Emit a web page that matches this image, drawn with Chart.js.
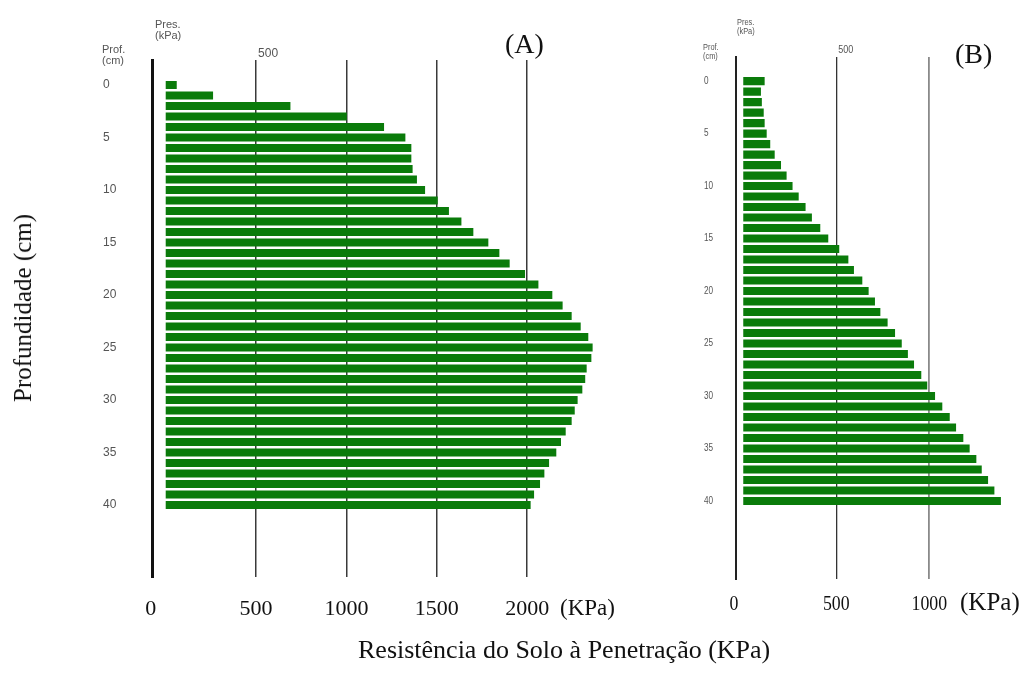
<!DOCTYPE html>
<html>
<head>
<meta charset="utf-8">
<script src="https://cdn.jsdelivr.net/npm/chart.js@4/dist/chart.umd.min.js"></script>
<style>
  html, body { margin: 0; padding: 0; background: #fff; }
  #wrap { position: relative; width: 1028px; height: 680px; overflow: hidden; background: #fff; }
  #cA { position: absolute; left: 0; top: 0; }
  #cB { position: absolute; left: 660px; top: 0; }
  .ytitle {
    position: absolute; left: 23px; top: 308px;
    transform: translate(-50%, -50%) rotate(-90deg);
    font-family: "Liberation Serif", "Times New Roman", serif; font-size: 25px;
    color: #111; white-space: nowrap;
  }
  .xtitle {
    position: absolute; left: 358px; top: 636px;
    font-family: "Liberation Serif", "Times New Roman", serif; font-size: 26px;
    color: #111; white-space: nowrap; line-height: 28px;
  }
</style>
</head>
<body>
<div id="wrap">
  <canvas id="cA" width="640" height="680"></canvas>
  <canvas id="cB" width="368" height="680"></canvas>
  <div class="ytitle">Profundidade (cm)</div>
  <div class="xtitle">Resistência do Solo à Penetração (KPa)</div>
</div>
<script>
// Soil depth of each reading (cm)
const depthsCm = [0, 1, 2, 3, 4, 5, 6, 7, 8, 9, 10, 11, 12, 13, 14, 15, 16, 17, 18, 19, 20,
                  21, 22, 23, 24, 25, 26, 27, 28, 29, 30, 31, 32, 33, 34, 35, 36, 37, 38, 39, 40];

// Penetration resistance (kPa), profile A
const resistA = [61, 262, 690, 1002, 1208, 1326, 1359, 1359, 1366, 1390, 1435, 1505, 1567, 1636,
                 1702, 1785, 1846, 1903, 1988, 2062, 2139, 2196, 2246, 2296, 2338, 2362, 2355,
                 2329, 2321, 2305, 2279, 2263, 2246, 2213, 2187, 2161, 2121, 2095, 2071, 2038, 2019];

// Penetration resistance (kPa), profile B
const resistB = [115, 95, 100, 110, 115, 126, 145, 169, 203, 233, 265, 298, 335, 369, 414, 457,
                 516, 565, 595, 640, 674, 708, 737, 776, 816, 852, 885, 918, 957, 989, 1031, 1070,
                 1110, 1144, 1183, 1217, 1253, 1282, 1316, 1350, 1385];

// Depth labels down the left side
const depthTicks = [0, 5, 10, 15, 20, 25, 30, 35, 40];

// Vertical reference lines and bottom labels
const gridA = [500, 1000, 1500, 2000];
const gridB = [500, 1000];
const bottomLabelsA = ['0', '500', '1000', '1500', '2000'];
const bottomLabelsB = ['0', '500', '1000'];

const BAR_GREEN = '#0a7b0a';
const SANS = '"Liberation Sans", Arial, sans-serif';
const SERIF = '"Liberation Serif", "Times New Roman", serif';

function txt(ctx, s, x, y, font, color, align, sx, baseline) {
  ctx.save();
  ctx.font = font;
  ctx.fillStyle = color;
  ctx.textAlign = align || 'left';
  ctx.textBaseline = baseline || 'alphabetic';
  ctx.translate(x, y);
  ctx.scale(sx || 1, 1);
  ctx.fillText(s, 0, 0);
  ctx.restore();
}

// Draws the header notes, depth labels and pressure labels from the chart's scales
const labelPlugin = {
  id: 'profileLabels',
  afterDraw(chart, args, o) {
    const ctx = chart.ctx;
    const xs = chart.scales.x, ys = chart.scales.y;
    const ca = chart.chartArea;
    // header notes
    txt(ctx, 'Pres.', o.presX, o.presY, o.smallFont, '#555', 'left', o.smallSx);
    txt(ctx, '(kPa)', o.presX, o.presY + o.lineGap, o.smallFont, '#555', 'left', o.smallSx);
    txt(ctx, 'Prof.', o.profX, o.profY, o.smallFont, '#555', 'left', o.smallSx);
    txt(ctx, '(cm)', o.profX, o.profY + o.lineGap, o.smallFont, '#555', 'left', o.smallSx);
    // top pressure label
    txt(ctx, '500', xs.getPixelForValue(500) + 2, o.topLabelY, o.topFont, '#555', 'left', o.topSx);
    // depth labels
    depthTicks.forEach(d => {
      txt(ctx, String(d), o.profX + 1, ys.getPixelForValue(d), o.tickFont, '#555', 'left', o.smallSx, 'middle');
    });
    // bottom pressure labels
    o.bottomLabels.forEach((s, i) => {
      const x = i === 0 ? ca.left - 2 : xs.getPixelForValue(o.bottomValues[i - 1]);
      txt(ctx, s, x, o.bottomY, o.bottomFont, '#111', 'center', o.bottomSx);
    });
    txt(ctx, '(KPa)', o.unitX, o.bottomY, o.unitFont, '#111', 'left', 1);
    // panel letter
    txt(ctx, o.panel, o.panelX, o.panelY, o.panelFont, '#111', 'left', 1);
  }
};

function makeProfile(canvas, values, cfg) {
  return new Chart(canvas, {
    type: 'bar',
    data: {
      datasets: [{
        data: depthsCm.map((d, i) => ({ x: values[i], y: d })),
        backgroundColor: BAR_GREEN,
        borderWidth: 0,
        barPercentage: 0.78,
        categoryPercentage: 1
      }]
    },
    options: {
      indexAxis: 'y',
      responsive: false,
      animation: false,
      events: [],
      layout: { padding: cfg.padding },
      plugins: { legend: { display: false }, tooltip: { enabled: false }, profileLabels: cfg.labels },
      scales: {
        x: {
          type: 'linear', position: 'bottom', min: cfg.xMin, max: cfg.xMax, z: 1, offset: false,
          border: { display: false },
          ticks: { display: false },
          grid: {
            drawTicks: false, offset: false,
            color: c => cfg.gridColor(c.tick ? c.tick.value : 0),
            lineWidth: c => cfg.gridWidth(c.tick ? c.tick.value : 0)
          },
          afterBuildTicks: s => { s.ticks = cfg.grid.map(v => ({ value: v })); },
          afterFit: s => { s.height = cfg.xAxisHeight; }
        },
        y: {
          type: 'linear', position: 'left', reverse: true, min: cfg.yMin, max: cfg.yMax, z: 1,
          offset: false,
          border: { display: true, color: cfg.axisColor, width: cfg.axisWidth },
          grid: { display: false, offset: false },
          ticks: { display: false },
          afterBuildTicks: s => { s.ticks = depthTicks.map(v => ({ value: v })); },
          afterFit: s => { s.width = cfg.yAxisWidth; }
        }
      }
    },
    plugins: [labelPlugin]
  });
}

makeProfile(document.getElementById('cA'), resistA, {
  padding: { left: 103, top: 60, right: 40.5, bottom: 0 },
  xMin: -72, xMax: 2400, yMin: -2.38, yMax: 46.86,
  xAxisHeight: 103, yAxisWidth: 49.7,
  axisColor: '#111', axisWidth: 3,
  grid: gridA,
  gridColor: () => '#3a3a3a',
  gridWidth: () => 1.5,
  labels: {
    presX: 155, presY: 28, profX: 102, profY: 53, lineGap: 11,
    smallFont: '11px ' + SANS, smallSx: 1,
    topLabelY: 57, topFont: '12px ' + SANS, topSx: 1,
    tickFont: '12px ' + SANS,
    bottomLabels: bottomLabelsA, bottomValues: gridA,
    bottomY: 615, bottomFont: '22px ' + SERIF, bottomSx: 1,
    unitX: 560, unitFont: '23px ' + SERIF,
    panel: '(A)', panelX: 505, panelY: 53, panelFont: '28px ' + SERIF
  }
});

makeProfile(document.getElementById('cB'), resistB, {
  padding: { left: 45, top: 57, right: 5.7, bottom: 0 },
  xMin: -39, xMax: 1500, yMin: -2.29, yMax: 47.43,
  xAxisHeight: 101, yAxisWidth: 31,
  axisColor: '#222', axisWidth: 2,
  grid: gridB,
  gridColor: v => (v === 500 ? '#333' : '#8a8a8a'),
  gridWidth: v => (v === 500 ? 1.3 : 1.8),
  labels: {
    presX: 77, presY: 25, profX: 43, profY: 50, lineGap: 9,
    smallFont: '9.5px ' + SANS, smallSx: 0.78,
    topLabelY: 53, topFont: '10px ' + SANS, topSx: 0.9,
    tickFont: '10.5px ' + SANS,
    bottomLabels: bottomLabelsB, bottomValues: gridB,
    bottomY: 610, bottomFont: '22px ' + SERIF, bottomSx: 0.81,
    unitX: 300, unitFont: '25px ' + SERIF,
    panel: '(B)', panelX: 295, panelY: 63, panelFont: '28px ' + SERIF
  }
});
</script>
</body>
</html>
